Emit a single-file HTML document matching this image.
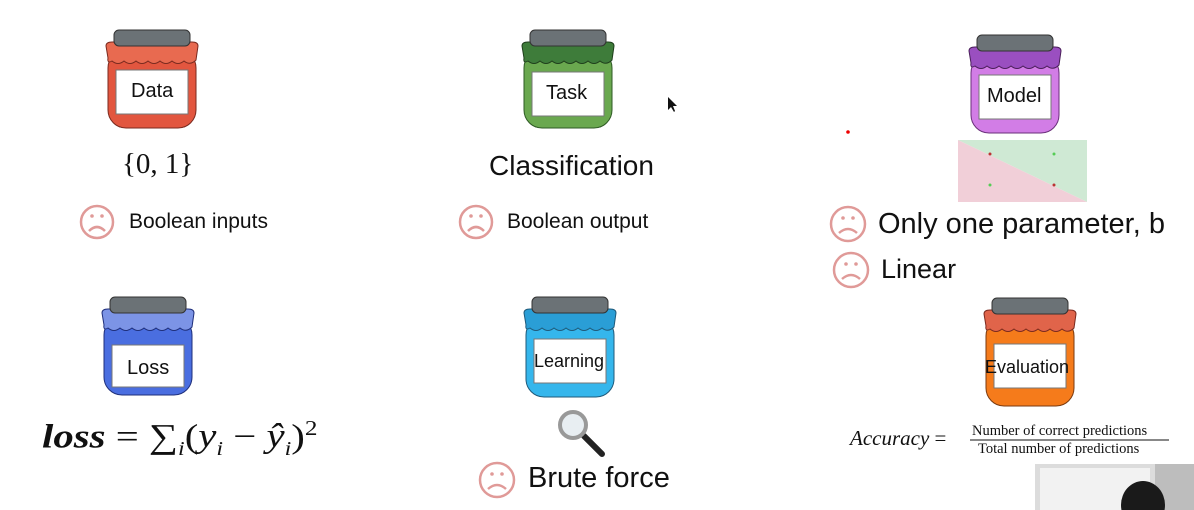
<!DOCTYPE html>
<html><head><meta charset="utf-8"><style>
body{margin:0;background:#fff;width:1194px;height:510px;overflow:hidden;position:relative;font-family:"Liberation Sans",sans-serif}
.t{position:absolute;white-space:nowrap;color:#111}
.s{font-family:"Liberation Serif",serif}
</style></head><body>
<svg width="1194" height="510" style="position:absolute;left:0;top:0">
<defs>
<path id="cl" d="M-46,16 Q-46,12 -40,12 L40,12 Q46,12 46,16 L44,30 Q38,36 32,31 Q26,36 20,31 Q14,36 8,31 Q2,36 -4,31 Q-10,36 -16,31 Q-22,36 -28,31 Q-34,36 -40,31 Q-45,34 -44,28 Z"/>
</defs>
<g transform="translate(152,30)"><rect x="-44" y="20" width="88" height="78" rx="18" fill="#e2563f" stroke="#7a2a1f"/><use href="#cl" fill="#e86a50" stroke="#7a2a1f"/><rect x="-38" y="0" width="76" height="16" rx="5" fill="#6b7276" stroke="#333"/><rect x="-36" y="40" width="72" height="44" fill="#fff" stroke="#777"/></g>
<g transform="translate(568,30)"><rect x="-44" y="20" width="88" height="78" rx="18" fill="#6aa84f" stroke="#2e5a24"/><use href="#cl" fill="#3e7c3a" stroke="#1f3f1c"/><rect x="-38" y="0" width="76" height="16" rx="5" fill="#6b7276" stroke="#333"/><rect x="-36" y="42" width="72" height="44" fill="#fff" stroke="#777"/></g>
<g transform="translate(1015,35)"><rect x="-44" y="20" width="88" height="78" rx="18" fill="#d27de6" stroke="#6a2f7a"/><use href="#cl" fill="#9a4fc0" stroke="#4a1f5a"/><rect x="-38" y="0" width="76" height="16" rx="5" fill="#6b7276" stroke="#333"/><rect x="-36" y="40" width="72" height="44" fill="#fff" stroke="#777"/></g>
<g transform="translate(148,297)"><rect x="-44" y="20" width="88" height="78" rx="18" fill="#4a6ee0" stroke="#1f2f7a"/><use href="#cl" fill="#7c94e6" stroke="#1f2f7a"/><rect x="-38" y="0" width="76" height="16" rx="5" fill="#6b7276" stroke="#333"/><rect x="-36" y="48" width="72" height="42" fill="#fff" stroke="#777"/></g>
<g transform="translate(570,297)"><rect x="-44" y="20" width="88" height="80" rx="18" fill="#35b6ec" stroke="#1f5a7a"/><use href="#cl" fill="#2a9ed6" stroke="#1f5a7a"/><rect x="-38" y="0" width="76" height="16" rx="5" fill="#6b7276" stroke="#333"/><rect x="-36" y="42" width="72" height="44" fill="#fff" stroke="#777"/></g>
<g transform="translate(1030,298)"><rect x="-44" y="20" width="88" height="88" rx="18" fill="#f57b1b" stroke="#7a3a0f"/><use href="#cl" fill="#e0644a" stroke="#7a2a1f"/><rect x="-38" y="0" width="76" height="16" rx="5" fill="#6b7276" stroke="#333"/><rect x="-36" y="46" width="72" height="44" fill="#fff" stroke="#777"/></g>
<polygon points="958,140 1087,140 1087,202" fill="#cfe9d4"/>
<polygon points="958,140 1087,202 958,202" fill="#f1cfd8"/>
<circle cx="990" cy="154" r="1.5" fill="#b33"/><circle cx="1054" cy="154" r="1.5" fill="#5c5"/>
<circle cx="990" cy="185" r="1.5" fill="#5c5"/><circle cx="1054" cy="185" r="1.5" fill="#b33"/>
<circle cx="848" cy="132" r="1.8" fill="#e00"/>
<g fill="none" stroke="#e09a98" stroke-width="2.5">
<circle cx="97" cy="222" r="16"/><circle cx="476" cy="222" r="16"/><circle cx="848" cy="224" r="17"/><circle cx="851" cy="270" r="17"/><circle cx="497" cy="480" r="17"/>
<path d="M89,231 Q97,223 105,231 M468,231 Q476,223 484,231 M839,233 Q848,225 857,233 M842,279 Q851,271 860,279 M488,489 Q497,481 506,489"/>
</g>
<g fill="#e09a98"><circle cx="92" cy="216" r="1.8"/><circle cx="102" cy="216" r="1.8"/><circle cx="471" cy="216" r="1.8"/><circle cx="481" cy="216" r="1.8"/><circle cx="843" cy="218" r="1.8"/><circle cx="853" cy="218" r="1.8"/><circle cx="846" cy="264" r="1.8"/><circle cx="856" cy="264" r="1.8"/><circle cx="492" cy="474" r="1.8"/><circle cx="502" cy="474" r="1.8"/></g>
<line x1="584" y1="436" x2="602" y2="454" stroke="#222" stroke-width="6" stroke-linecap="round"/>
<circle cx="573" cy="425" r="13" fill="#e8eef2" stroke="#999" stroke-width="4"/>
<path d="M668,97 L668,110 L671,107 L674,112 L675,111 L673,106 L677,106 Z" fill="#111"/>
<line x1="970" y1="440" x2="1169" y2="440" stroke="#111" stroke-width="1"/>
<rect x="1035" y="464" width="159" height="46" fill="#dcdcdc"/>
<rect x="1040" y="468" width="110" height="42" fill="#f2f2f2"/>
<rect x="1155" y="464" width="39" height="46" fill="#bdbdbd"/>
<ellipse cx="1143" cy="505" rx="22" ry="24" fill="#1a1a1a"/>
</svg>
<div class="t" style="left:131px;top:80px;font-size:20px">Data</div>
<div class="t" style="left:546px;top:82px;font-size:20px">Task</div>
<div class="t" style="left:987px;top:85px;font-size:20px">Model</div>
<div class="t" style="left:127px;top:357px;font-size:20px">Loss</div>
<div class="t" style="left:534px;top:351px;font-size:18px">Learning</div>
<div class="t" style="left:985px;top:357px;font-size:18px">Evaluation</div>
<div class="t s" style="left:122px;top:148px;font-size:29px">{0, 1}</div>
<div class="t" style="left:489px;top:150px;font-size:28px">Classification</div>
<div class="t" style="left:129px;top:210px;font-size:21px">Boolean inputs</div>
<div class="t" style="left:507px;top:210px;font-size:21px">Boolean output</div>
<div class="t" style="left:878px;top:208px;font-size:29px">Only one parameter, b</div>
<div class="t" style="left:881px;top:254px;font-size:27px">Linear</div>
<div class="t s" style="left:42px;top:416px;font-size:34px;transform:scaleX(1.2);transform-origin:left"><i><b>loss</b></i> = &sum;<sub style="font-size:20px"><i>i</i></sub>(<i>y<sub style="font-size:20px">i</sub></i> &minus; <i>&ycirc;<sub style="font-size:20px">i</sub></i>)<sup style="font-size:21px">2</sup></div>
<div class="t" style="left:528px;top:462px;font-size:29px">Brute force</div>
<div class="t s" style="left:850px;top:426px;font-size:21px"><i>Accuracy</i> =</div>
<div class="t s" style="left:972px;top:423px;font-size:14.5px">Number of correct predictions</div>
<div class="t s" style="left:978px;top:441px;font-size:14.5px">Total number of predictions</div>
</body></html>
